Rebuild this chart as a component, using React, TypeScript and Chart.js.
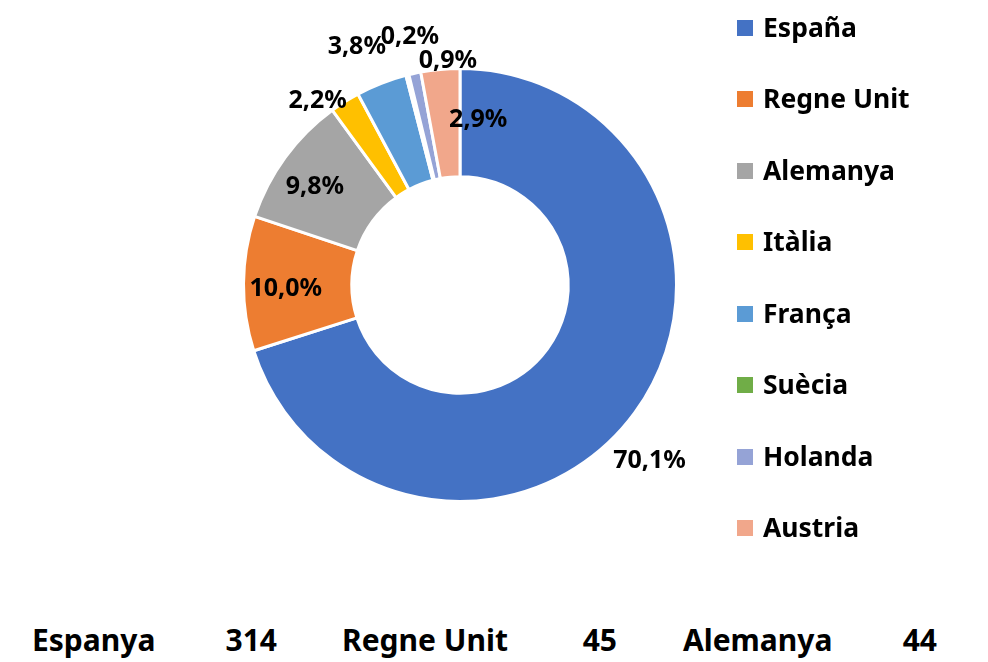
import React, { useEffect, useRef } from "react";
import { Chart, registerables } from "chart.js";

Chart.register(...registerables);

const categories = ["España", "Regne Unit", "Alemanya", "Itàlia", "França", "Suècia", "Holanda", "Austria"];
const seriesValues = [314, 45, 44, 10, 17, 1, 4, 13];
const sliceColors = ["#4472C4", "#ED7D31", "#A5A5A5", "#FFC000", "#5B9BD5", "#70AD47", "#95A3D6", "#F1A78B"];

const tableLabels = ["Espanya", "Regne Unit", "Alemanya"];
const tableValues = ["314", "45", "44"];

// label placement (screen angle in degrees, distance as fraction of outer radius)
const labelAngles = [42.9, 178.7, -145.8, -127.7, -113.4, -101.4, -93.1, -83.7];
const labelRadii = [1.195, 0.805, 0.81, 1.075, 1.2, 1.17, 1.037, 0.767];

const FONT = "'Noto Sans', 'Open Sans', sans-serif";

const labelPlugin = {
  id: "pctLabels",
  afterDatasetsDraw(chart: any) {
    const meta = chart.getDatasetMeta(0);
    const data = chart.data.datasets[0].data as number[];
    const total = data.reduce((a, b) => a + b, 0);
    const ctx = chart.ctx;
    ctx.save();
    ctx.font = `bold 25px ${FONT}`;
    ctx.fillStyle = "#000";
    ctx.textAlign = "center";
    ctx.textBaseline = "middle";
    meta.data.forEach((arc: any, i: number) => {
      const r = arc.outerRadius * labelRadii[i];
      const a = (labelAngles[i] * Math.PI) / 180;
      const x = arc.x + r * Math.cos(a);
      const y = arc.y + r * Math.sin(a);
      const txt = ((data[i] / total) * 100).toFixed(1).replace(".", ",") + "%";
      ctx.fillText(txt, x, y);
    });
    ctx.restore();
  },
};

export default function App() {
  const ref = useRef<HTMLCanvasElement>(null);
  useEffect(() => {
    if (!ref.current) return;
    const chart = new Chart(ref.current, {
      type: "doughnut",
      data: {
        labels: categories,
        datasets: [
          {
            data: seriesValues,
            backgroundColor: sliceColors,
            borderColor: "#FFFFFF",
            borderWidth: 3,
          },
        ],
      },
      options: {
        animation: false,
        responsive: false,
        cutout: "50%",
        layout: { padding: { left: 242, right: 310, top: 0, bottom: 5 } },
        plugins: {
          legend: { display: false },
          tooltip: { enabled: false },
        },
      },
      plugins: [labelPlugin],
    });
    return () => chart.destroy();
  }, []);

  return (
    <div style={{ position: "absolute", left: 0, top: 0, width: 988, height: 662, background: "#fff", fontFamily: FONT, overflow: "hidden" }}>
      <canvas ref={ref} width={988} height={575} style={{ position: "absolute", left: 0, top: 0, width: 988, height: 575 }} />
      {categories.map((c, i) => (
        <div
          key={c}
          style={{
            position: "absolute",
            left: 737,
            top: 12 + i * 71.43,
            height: 30,
            display: "flex",
            alignItems: "center",
            fontWeight: "bold",
            fontSize: 26.5,
            lineHeight: "30px",
            color: "#000",
            whiteSpace: "nowrap",
          }}
        >
          <span style={{ display: "inline-block", width: 16, height: 16, background: sliceColors[i], marginRight: 10, marginTop: 2 }} />
          <span>{c}</span>
        </div>
      ))}
      {tableLabels.map((t, i) => (
        <div key={t} style={{ position: "absolute", left: [32, 342, 683][i], top: 625, fontWeight: "bold", fontSize: 30, lineHeight: "30px", whiteSpace: "nowrap" }}>
          {t}
        </div>
      ))}
      {tableValues.map((t, i) => (
        <div key={t + i} style={{ position: "absolute", right: [988 - 277, 988 - 617, 988 - 937][i], top: 625, fontWeight: "bold", fontSize: 30, lineHeight: "30px", whiteSpace: "nowrap", textAlign: "right" }}>
          {t}
        </div>
      ))}
    </div>
  );
}
